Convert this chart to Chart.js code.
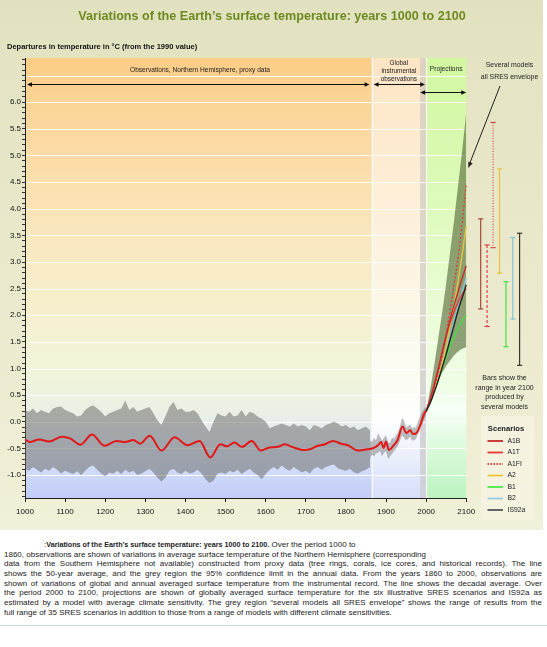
<!DOCTYPE html>
<html><head><meta charset="utf-8">
<script src="https://cdn.jsdelivr.net/npm/chart.js@4.4.0/dist/chart.umd.min.js"></script>
<style>
html,body{margin:0;padding:0;background:#fff;width:547px;height:647px;overflow:hidden;font-family:'Liberation Sans',Arial,sans-serif;}
#box{position:absolute;left:0;top:0;width:543px;height:530px;background:linear-gradient(#e2e1bf,#f1f0d8);}
#c{position:absolute;left:0;top:0;}
#cap{position:absolute;left:4px;top:540px;width:538px;font-size:8px;line-height:9.65px;color:#222;}
#cap div{white-space:nowrap;}
#cap .j{text-align:justify;text-align-last:justify;white-space:normal;}
#cap b{font-size:7.2px;}
#rule{position:absolute;left:0;top:625px;width:547px;border-top:1px solid #c9d8e6;}
</style></head>
<body>
<div id="box"><canvas id="c" width="543" height="530"></canvas></div>
<div id="cap">
<div style="padding-left:40px">:<b>Variations of the Earth’s surface temperature: years 1000 to 2100.</b> Over the period 1000 to</div>
<div>1860, observations are shown of variations in average surface temperature of the Northern Hemisphere (corresponding</div>
<div class="j">data from the Southern Hemisphere not available) constructed from proxy data (tree rings, corals, ice cores, and historical records). The line</div>
<div class="j">shows the 50-year average, and the grey region the 95% confidence limit in the annual data. From the years 1860 to 2000, observations are</div>
<div class="j">shown of variations of global and annual averaged surface temperature from the instrumental record. The line shows the decadal average. Over</div>
<div class="j">the period 2000 to 2100, projections are shown of globally averaged surface temperature for the six illustrative SRES scenarios and IS92a as</div>
<div class="j">estimated by a model with average climate sensitivity. The grey region “several models all SRES envelope” shows the range of results from the</div>
<div>full range of 35 SRES scenarios in addition to those from a range of models with different climate sensitivities.</div>
</div>
<div id="rule"></div>
<script>
// ---------------- DATA ----------------
const proxyYears = [1000,1010,1020,1030,1040,1050,1060,1070,1080,1090,
  1100,1110,1120,1130,1140,1150,1160,1170,1180,1190,
  1200,1210,1220,1230,1240,1250,1260,1270,1280,1290,
  1300,1310,1320,1330,1340,1350,1360,1370,1380,1390,
  1400,1410,1420,1430,1440,1450,1460,1470,1480,1490,
  1500,1510,1520,1530,1540,1550,1560,1570,1580,1590,
  1600,1610,1620,1630,1640,1650,1660,1670,1680,1690,
  1700,1710,1720,1730,1740,1750,1760,1770,1780,1790,
  1800,1810,1820,1830,1840,1850,1860];
const proxyUpper = [0.22,0.19,0.25,0.16,0.22,0.19,0.16,0.25,0.28,0.29,
  0.22,0.19,0.16,0.10,0.12,0.22,0.28,0.31,0.25,0.19,
  0.10,0.16,0.19,0.22,0.25,0.40,0.22,0.28,0.19,0.22,
  0.25,0.28,0.16,0.03,-0.06,0.10,0.28,0.37,0.22,0.25,
  0.19,0.19,0.22,0.16,0.03,-0.09,-0.19,0.00,0.16,0.12,
  0.10,0.19,0.10,0.12,0.22,0.10,0.19,0.16,0.10,0.06,
  0.00,-0.12,-0.09,-0.06,-0.03,-0.06,-0.09,-0.03,-0.09,-0.06,
  -0.09,-0.16,-0.06,-0.09,-0.12,-0.06,-0.03,0.00,-0.03,-0.09,
  -0.06,-0.12,-0.09,-0.16,-0.12,-0.09,-0.16];
const proxyLower = [-0.88,-0.92,-0.85,-0.90,-0.95,-0.88,-0.92,-0.85,-0.90,-0.97,
  -0.92,-0.95,-0.98,-0.93,-1.00,-0.92,-0.85,-0.82,-0.90,-0.97,
  -1.02,-0.95,-0.97,-0.92,-0.98,-0.90,-0.95,-0.92,-1.00,-0.97,
  -0.93,-0.88,-0.95,-1.05,-1.12,-1.05,-0.92,-0.88,-0.95,-0.98,
  -0.92,-0.97,-0.95,-0.90,-0.97,-1.08,-1.15,-1.10,-0.97,-0.95,
  -0.98,-0.92,-0.95,-0.90,-0.98,-0.93,-0.88,-0.95,-1.00,-1.08,
  -0.98,-0.90,-0.85,-0.90,-0.82,-0.88,-0.92,-0.85,-0.90,-0.95,
  -0.92,-0.97,-0.88,-0.85,-0.90,-0.85,-0.82,-0.80,-0.87,-0.90,
  -0.92,-0.88,-0.95,-0.97,-0.93,-0.90,-0.85];

const instYears = [1860,1865,1870,1875,1880,1885,1890,1895,1900,1905,1910,1915,1920,1925,1930,
  1935,1940,1945,1950,1955,1960,1965,1970,1975,1980,1985,1990,1995,2000];
const instUpper = [-0.35,-0.38,-0.30,-0.35,-0.22,-0.28,-0.35,-0.30,-0.25,-0.38,-0.40,-0.30,-0.32,-0.25,-0.20,
  -0.08,0.08,0.02,-0.10,-0.08,-0.05,-0.12,-0.10,-0.10,0.02,0.10,0.18,0.25,0.28];
const instLower = [-0.68,-0.62,-0.65,-0.60,-0.58,-0.55,-0.65,-0.58,-0.55,-0.70,-0.65,-0.60,-0.55,-0.50,-0.45,
  -0.35,-0.25,-0.30,-0.35,-0.32,-0.28,-0.35,-0.35,-0.32,-0.22,-0.12,-0.05,0.05,0.12];

const meanYears = [1000,1012,1035,1060,1092,1112,1138,1167,1198,1228,1250,1270,1287,1311,1340,1373,
  1405,1435,1462,1487,1503,1522,1541,1565,1588,1610,1630,1648,1665,1697,1712,1730,1748,1768,1788,
  1805,1830,1848,1865,1872,1880,1888,1894,1900,1907,1917,1929,1941,1951,1960,1968,1976,1987,1995,2000];
const meanValues = [-0.33,-0.38,-0.33,-0.37,-0.28,-0.31,-0.43,-0.24,-0.45,-0.36,-0.38,-0.34,-0.41,-0.26,-0.54,-0.29,
  -0.44,-0.36,-0.67,-0.42,-0.46,-0.39,-0.47,-0.36,-0.54,-0.48,-0.47,-0.42,-0.47,-0.53,-0.51,-0.45,-0.42,-0.36,-0.41,
  -0.44,-0.54,-0.52,-0.50,-0.48,-0.44,-0.38,-0.49,-0.37,-0.53,-0.46,-0.34,-0.09,-0.21,-0.16,-0.23,-0.21,-0.03,0.15,0.21];

const projYears = [2000,2010,2020,2030,2040,2050,2060,2070,2080,2090,2100];
const envUpper = [0.20,0.60,1.05,1.55,2.05,2.60,3.20,3.80,4.45,5.10,5.80];
const envLower = [0.15,0.35,0.55,0.75,0.92,1.05,1.15,1.25,1.32,1.37,1.40];

const scenarios = ['A1B','A1T','A1FI','A2','B1','B2','IS92a'];
const scnA1B  = [0.20,0.42,0.68,0.98,1.30,1.62,1.92,2.20,2.45,2.70,2.93];
const scnA1T  = [0.20,0.42,0.70,1.00,1.32,1.62,1.87,2.08,2.25,2.40,2.50];
const scnA1FI = [0.20,0.40,0.62,0.90,1.25,1.65,2.10,2.60,3.10,3.75,4.48];
const scnA2   = [0.20,0.38,0.58,0.82,1.10,1.42,1.80,2.20,2.67,3.15,3.68];
const scnB1   = [0.20,0.36,0.56,0.78,1.00,1.22,1.42,1.60,1.76,1.90,2.00];
const scnB2   = [0.20,0.40,0.62,0.87,1.12,1.38,1.65,1.92,2.20,2.45,2.70];
const scnIS92a= [0.20,0.35,0.55,0.77,1.02,1.27,1.55,1.82,2.10,2.33,2.57];

// ranges in year 2100 (bars drawn to the right of the plot)
const barYears  = [2136,2152,2167,2183,2199,2216,2233];
const barTop    = [3.81,3.32,5.62,4.75,2.63,3.46,3.54];
const barBottom = [2.12,1.79,3.27,2.79,1.41,1.93,1.06];

const regionYears = [1000,1864,1985,2000,2100];
const xTickLast = 2100;

// ---------------- STYLE ----------------
const FONT = "'Liberation Sans', Arial, sans-serif";
const scnColors = ['#c42a2a','#ea3434','#d83c3c','#e8c43a','#3fe03f','#86c6e0','#1e1e1e'];
const scnDash   = [[],[],[2,2],[],[],[],[]];
const legendColors = ['#c42a2a','#ea3434','#d83c3c','#e8c43a','#4ce84c','#96cce2','#555'];
const barColors = ['#a84a3c','#e0404e','#d44a4a','#e8c444','#44e044','#88c4d6','#3c3628'];
const barDash   = [[],[3,2],[1,1.6],[],[],[],[]];
const regionStops = [
  [[0,'#fbcd86'],[0.18,'#fcd9a2'],[0.42,'#f9e8c0'],[0.62,'#f5f1d2'],[0.72,'#f0f4dc'],[0.8,'#eaf0e4'],[0.86,'#e2e9f4'],[0.93,'#d2dcf8'],[1,'#c2ccf8']],
  [[0,'#fde4c4'],[0.3,'#fdeed6'],[0.6,'#fbf8ea'],[0.75,'#fbfdf4'],[0.82,'#ffffff'],[0.9,'#ecf0fc'],[1,'#d6defa']],
  [[0,'#dcd2c2'],[0.6,'#dcd8cc'],[1,'#cfd0dc']],
  [[0,'#d2f7a0'],[0.3,'#dcfab8'],[0.6,'#ebfcd8'],[0.76,'#f0fde8'],[0.8,'#f8fff8'],[0.88,'#dcfadc'],[1,'#bcf3c0']]
];

const pts = (xs, ys) => xs.map((x, i) => ({x, y: ys[i]}));
const scnData = [scnA1B, scnA1T, scnA1FI, scnA2, scnB1, scnB2, scnIS92a];

const datasets = [];
// proxy band
datasets.push({label:'proxyUpper', data: pts(proxyYears, proxyUpper), borderWidth:0, pointRadius:0, fill:'+1', backgroundColor:'rgba(100,100,95,0.5)', order:20});
datasets.push({label:'proxyLower', data: pts(proxyYears, proxyLower), borderWidth:0, pointRadius:0, fill:false, order:20});
// instrumental band
datasets.push({label:'instUpper', data: pts(instYears, instUpper), borderWidth:0, pointRadius:0, fill:'+1', backgroundColor:'rgba(110,110,110,0.45)', order:19});
datasets.push({label:'instLower', data: pts(instYears, instLower), borderWidth:0, pointRadius:0, fill:false, order:19});
// envelope
datasets.push({label:'envUpper', data: pts(projYears, envUpper), borderWidth:0, pointRadius:0, fill:'+1', backgroundColor:'rgba(80,100,50,0.6)', order:18, tension:0.3});
datasets.push({label:'envLower', data: pts(projYears, envLower), borderWidth:0, pointRadius:0, fill:false, order:18, tension:0.3});
// mean line
datasets.push({label:'mean', data: pts(meanYears, meanValues), borderColor:'#e01818', borderWidth:2, pointRadius:0, fill:false, cubicInterpolationMode:'monotone', order:5});
// scenarios
scenarios.forEach((s, i) => datasets.push({label:s, data: pts(projYears, scnData[i]), borderColor: scnColors[i], borderDash: scnDash[i], borderWidth:1.3, pointRadius:0, fill:false, tension:0.35, order: 4 - (i===6?1:0)}));
// range bars
scenarios.forEach((s, i) => datasets.push({label:s+' range', data:[{x:barYears[i], y:barTop[i]},{x:barYears[i], y:barBottom[i]}],
  borderColor: barColors[i], borderDash: barDash[i], borderWidth:1.2, pointStyle:'line', pointRadius:2.6, pointBorderWidth:1.2,
  pointBorderColor: barColors[i], pointBackgroundColor: barColors[i], fill:false, order:1, clip:false}));

function arrowHead(ctx, x, y, ang, len = 5, half = 2.2) {
  ctx.save(); ctx.translate(x, y); ctx.rotate(ang);
  ctx.beginPath(); ctx.moveTo(0, 0); ctx.lineTo(-len, -half); ctx.lineTo(-len, half); ctx.closePath();
  ctx.fill(); ctx.restore();
}
function dblArrow(ctx, x0, x1, y) {
  ctx.beginPath(); ctx.moveTo(x0 + 2, y + 0.5); ctx.lineTo(x1 - 2, y + 0.5); ctx.stroke();
  arrowHead(ctx, x0, y + 0.5, Math.PI); arrowHead(ctx, x1, y + 0.5, 0);
}
function text(ctx, s, x, y, size, bold, align, color) {
  ctx.font = (bold ? 'bold ' : '') + size + 'px ' + FONT;
  ctx.textAlign = align || 'center'; ctx.textBaseline = 'middle';
  ctx.fillStyle = color || '#222'; ctx.fillText(s, x, y);
}

const deco = {
  id: 'deco',
  beforeDraw(chart) {
    const {ctx, chartArea: ca, scales: {x, y}} = chart;
    ctx.save();
    for (let i = 0; i < regionStops.length; i++) {
      const x0 = x.getPixelForValue(regionYears[i]), x1 = x.getPixelForValue(regionYears[i + 1]);
      const g = ctx.createLinearGradient(0, ca.top, 0, ca.bottom);
      regionStops[i].forEach(s => g.addColorStop(s[0], s[1]));
      ctx.fillStyle = g; ctx.fillRect(x0, ca.top, x1 - x0, ca.bottom - ca.top);
    }
    const xl = x.getPixelForValue(regionYears[0]), xr = x.getPixelForValue(regionYears[regionYears.length - 1]);
    ctx.strokeStyle = 'rgba(255,255,255,0.9)'; ctx.lineWidth = 1;
    y.ticks.forEach(t => {
      if (Math.abs(t.value * 2 - Math.round(t.value * 2)) < 1e-6) {
        const py = Math.round(y.getPixelForValue(t.value)) + 0.5;
        ctx.beginPath(); ctx.moveTo(xl, py); ctx.lineTo(xr, py); ctx.stroke();
      }
    });
    [regionYears[1], regionYears[3]].forEach(v => {
      const px = Math.round(x.getPixelForValue(v)) + 0.5;
      ctx.beginPath(); ctx.moveTo(px, ca.top); ctx.lineTo(px, ca.bottom); ctx.stroke();
    });
    ctx.restore();
  },
  afterDraw(chart) {
    const {ctx, chartArea: ca, scales: {x, y}} = chart;
    ctx.save();
    // x axis line
    ctx.strokeStyle = '#222'; ctx.lineWidth = 1;
    ctx.beginPath(); ctx.moveTo(x.getPixelForValue(1000), ca.bottom + 0.5); ctx.lineTo(x.getPixelForValue(xTickLast) + 0.5, ca.bottom + 0.5); ctx.stroke();
    // titles
    text(ctx, 'Variations of the Earth’s surface temperature: years 1000 to 2100', 272, 17, 12.6, true, 'center', '#6c8a20');
    text(ctx, 'Departures in temperature in °C (from the 1990 value)', 7, 47, 7.5, true, 'left', '#111');
    // region labels and arrows
    const x1000 = x.getPixelForValue(regionYears[0]), x1864 = x.getPixelForValue(regionYears[1]);
    const x1985 = x.getPixelForValue(regionYears[2]), x2000 = x.getPixelForValue(regionYears[3]), x2100 = x.getPixelForValue(regionYears[4]);
    text(ctx, 'Observations, Northern Hemisphere, proxy data', 200, 70, 6.6, false, 'center', '#222');
    text(ctx, 'Global', (x1864 + x2000) / 2, 63.5, 6.4, false, 'center', '#222');
    text(ctx, 'instrumental', (x1864 + x2000) / 2, 71.3, 6.4, false, 'center', '#222');
    text(ctx, 'observations', (x1864 + x2000) / 2, 79, 6.4, false, 'center', '#222');
    text(ctx, 'Projections', (x2000 + x2100) / 2, 69.5, 6.6, false, 'center', '#222');
    ctx.fillStyle = '#111'; ctx.strokeStyle = '#111'; ctx.lineWidth = 1;
    dblArrow(ctx, x1000 + 2, x1864 - 2, ca.top + 26);
    dblArrow(ctx, x1864 + 2, x2000 - 1, ca.top + 26);
    dblArrow(ctx, x1985, x2100, ca.top + 34);
    text(ctx, 'Several models', 509.5, 65.5, 6.9, false, 'center', '#222');
    text(ctx, 'all SRES envelope', 509.5, 77, 6.9, false, 'center', '#222');
    ctx.strokeStyle = '#222'; ctx.fillStyle = '#222';
    ctx.beginPath(); ctx.moveTo(500, 86); ctx.lineTo(469.5, 164); ctx.stroke();
    arrowHead(ctx, 468.3, 168, Math.atan2(168 - 86, 468.3 - 500), 6, 2.3);
    // bars note
    ['Bars show the', 'range in year 2100', 'produced by', 'several models'].forEach((s, i) =>
      text(ctx, s, 504.5, 378.5 + i * 9.5, 7, false, 'center', '#222'));
    // legend
    ctx.fillStyle = '#f5f3e0'; ctx.fillRect(481, 416, 53, 103);
    text(ctx, 'Scenarios', 506, 428.5, 7.6, true, 'center', '#222');
    scenarios.forEach((s, i) => {
      const ly = 441 + i * 11.5;
      ctx.strokeStyle = legendColors[i]; ctx.lineWidth = 1.8; ctx.setLineDash(scnDash[i].length ? [1.5, 1.5] : []);
      ctx.beginPath(); ctx.moveTo(487.5, ly); ctx.lineTo(503, ly); ctx.stroke();
      ctx.setLineDash([]);
      text(ctx, s, 507.5, ly, 6.8, false, 'left', '#222');
    });
    ctx.restore();
  }
};

new Chart(document.getElementById('c'), {
  type: 'line',
  data: { datasets },
  options: {
    responsive: false, animation: false, devicePixelRatio: 1,
    layout: { padding: { left: 0, top: 58, right: 2, bottom: 0 } },
    plugins: { legend: { display: false }, tooltip: { enabled: false }, title: { display: false } },
    elements: { line: { borderJoinStyle: 'round' } },
    scales: {
      x: {
        type: 'linear', min: 1000, max: 2278.4,
        afterBuildTicks: s => { s.ticks = s.ticks.filter(t => t.value <= xTickLast + 1e-6); },
        afterFit: s => { s.height = 32; },
        ticks: { stepSize: 100, includeBounds: false, autoSkip: false, maxRotation: 0, color: '#111',
          font: { size: 8, family: FONT }, padding: 5, callback: v => String(v) },
        grid: { drawOnChartArea: false, drawTicks: true, tickLength: 4, color: '#222' },
        border: { display: false }
      },
      y: {
        type: 'linear', min: -1.43, max: 6.83,
        afterFit: s => { s.width = 25; },
        ticks: { stepSize: 0.1, includeBounds: false, autoSkip: false, color: '#111',
          font: { size: 8, family: FONT }, padding: 1,
          callback: v => (Math.abs(v * 2 - Math.round(v * 2)) < 1e-6 && v <= 6.01) ? v.toFixed(1) : '' },
        grid: { drawOnChartArea: false, drawTicks: true, tickLength: 3, color: '#333' },
        border: { display: true, color: '#222', width: 1 }
      }
    }
  },
  plugins: [deco]
});
</script>
</body></html>
